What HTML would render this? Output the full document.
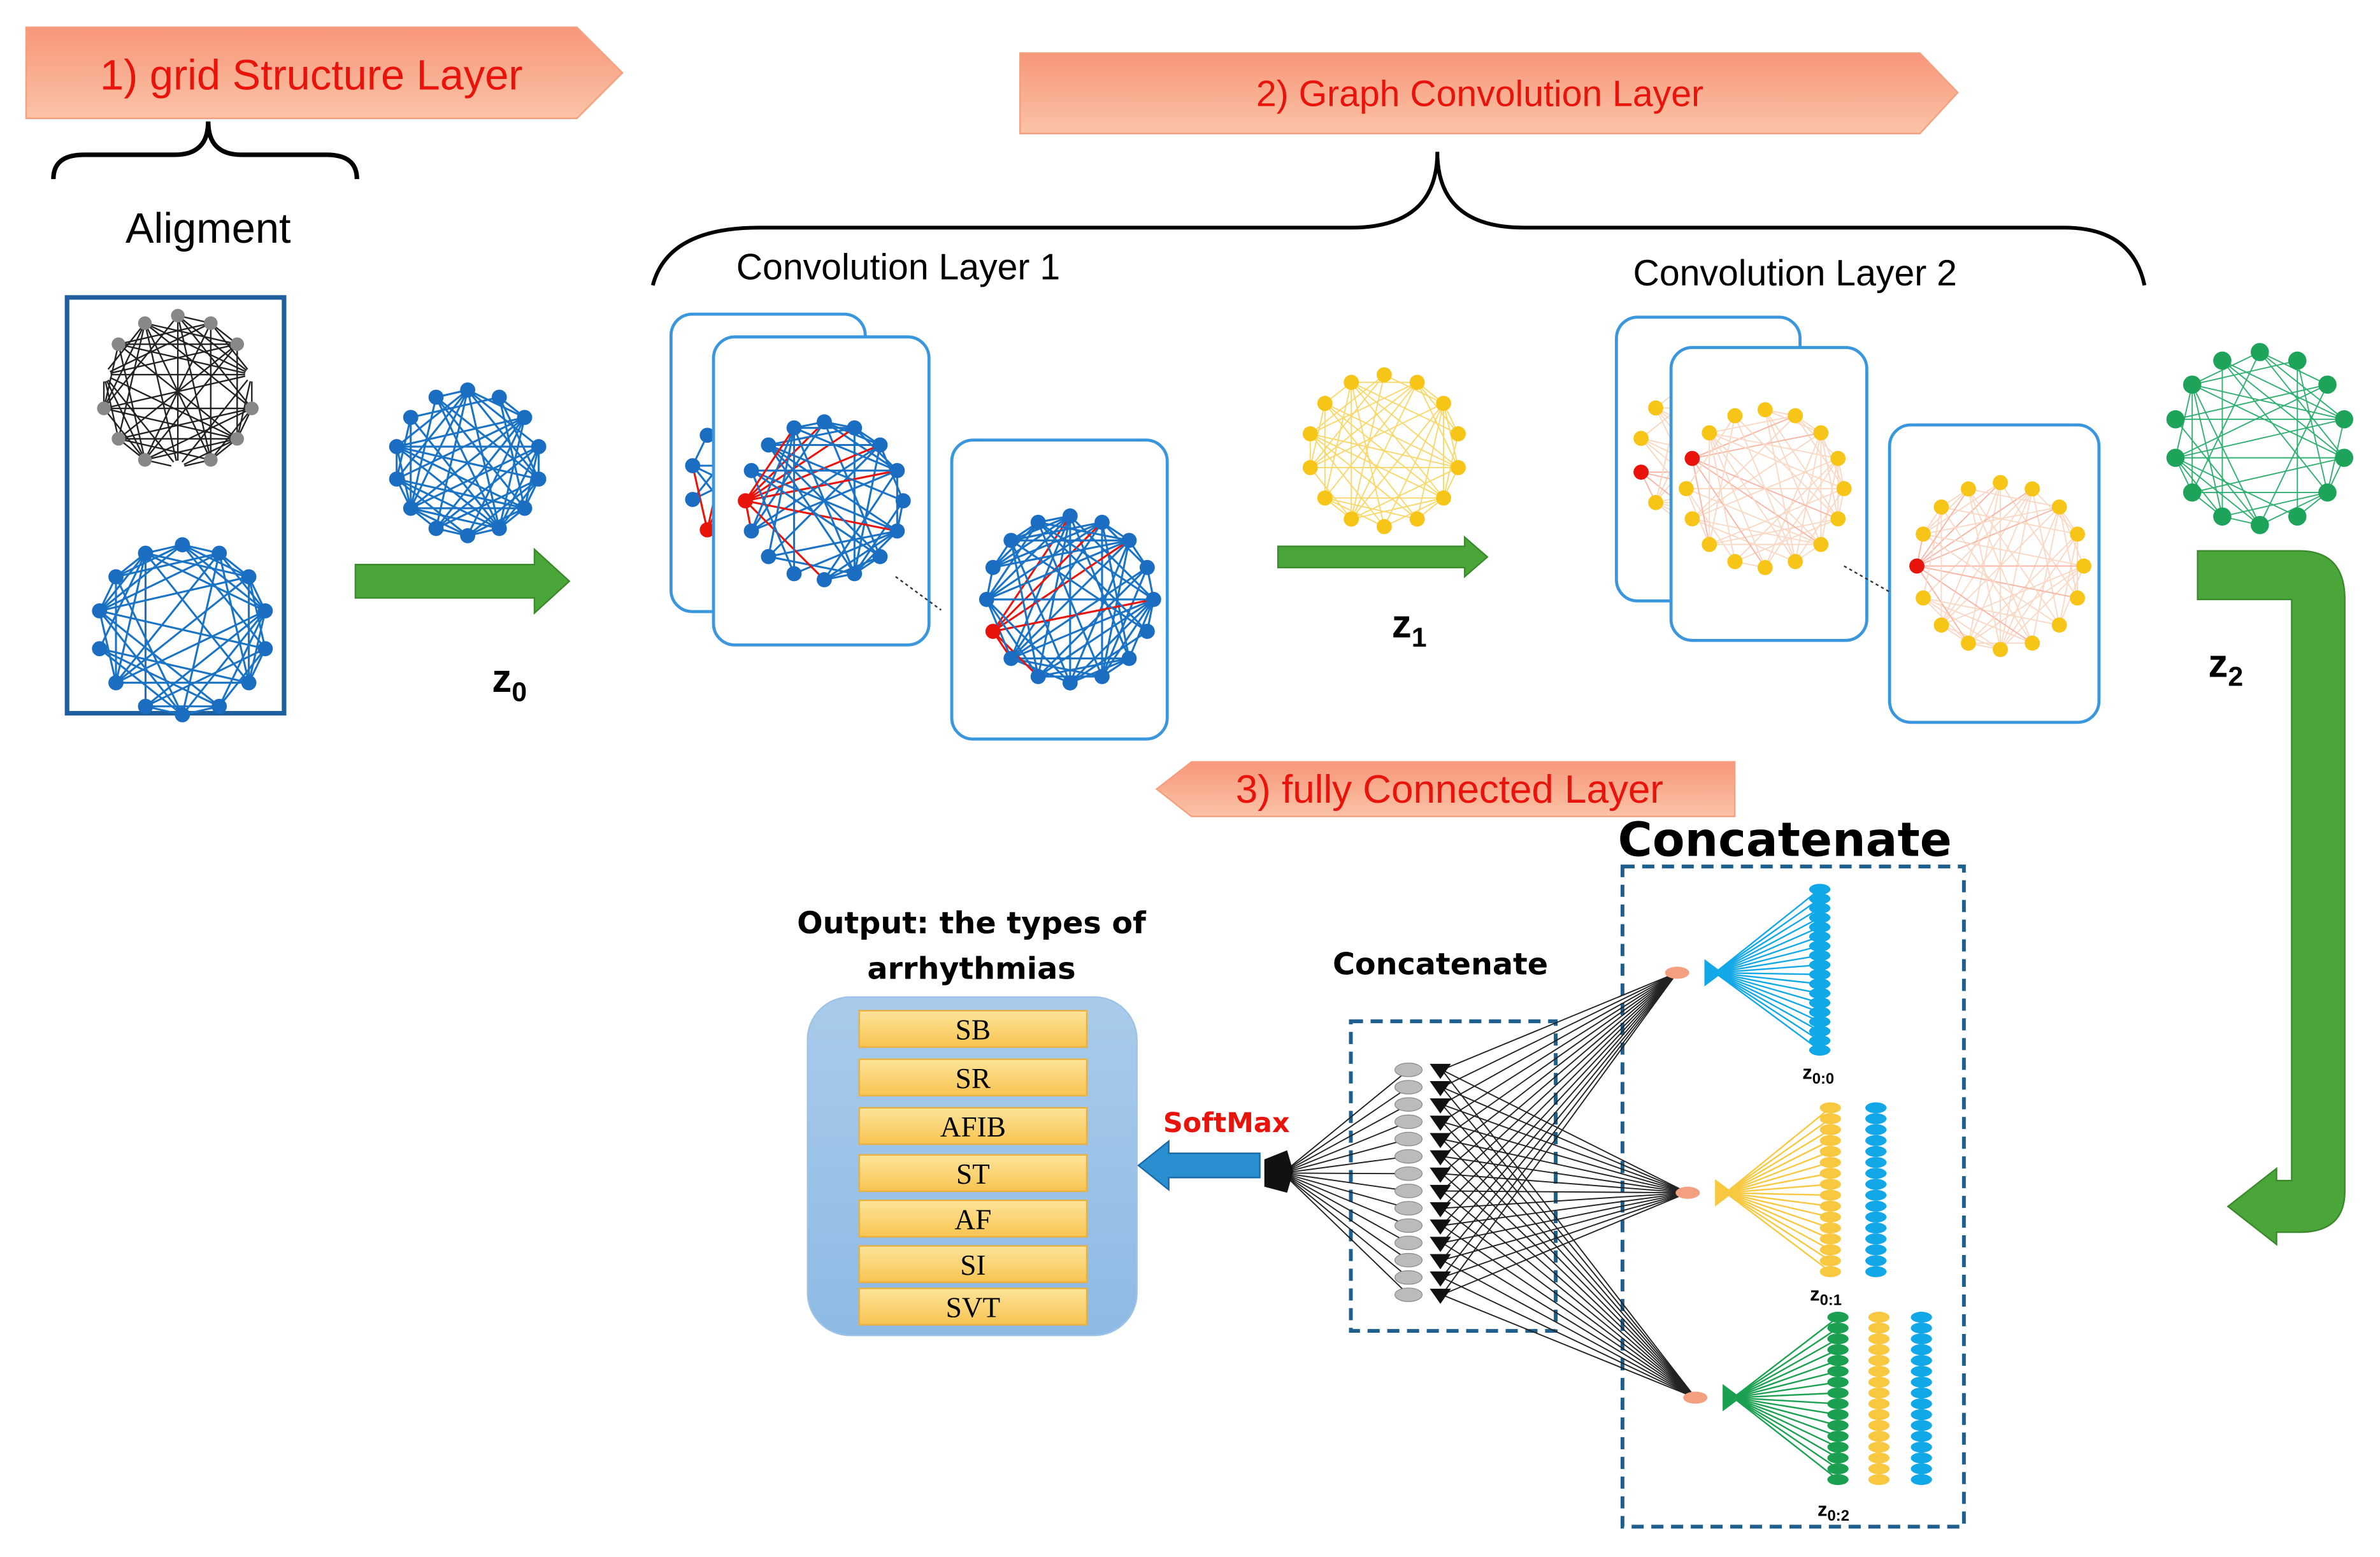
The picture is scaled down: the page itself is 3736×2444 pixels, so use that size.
<!DOCTYPE html>
<html><head><meta charset="utf-8">
<style>
html,body{margin:0;padding:0;background:#fff;}
svg{display:block;}
</style></head>
<body>
<svg id="s" width="3736" height="2444" viewBox="0 0 1568 1026" xmlns="http://www.w3.org/2000/svg" font-family="Liberation Sans, sans-serif">
<defs>
<linearGradient id="sal" x1="0" y1="0" x2="0" y2="1"><stop offset="0" stop-color="#f7967a"/><stop offset="1" stop-color="#fbc3a6"/></linearGradient>
<linearGradient id="outg" x1="0" y1="0" x2="0" y2="1"><stop offset="0" stop-color="#a9cbeb"/><stop offset="1" stop-color="#8dbae4"/></linearGradient>
<linearGradient id="yel" x1="0" y1="0" x2="0" y2="1"><stop offset="0" stop-color="#fde49a"/><stop offset="1" stop-color="#f8c451"/></linearGradient>
</defs>
<polygon points="17,18 380,18 410,48 380,78 17,78" fill="url(#sal)" stroke="#f4a07e"/>
<text x="205" y="59" font-size="28" fill="#e8140c" text-anchor="middle">1) grid Structure Layer</text>
<polygon points="672,35 1265,35 1290,61 1265,88 672,88" fill="url(#sal)" stroke="#f4a07e"/>
<text x="975" y="70" font-size="24" fill="#e8140c" text-anchor="middle">2) Graph Convolution  Layer</text>
<polygon points="785,502 1143,502 1143,538 785,538 762,520" fill="url(#sal)" stroke="#f4a07e"/>
<text x="955" y="529" font-size="26" fill="#e8140c" text-anchor="middle">3) fully Connected Layer</text>
<path d="M35,118 Q35,102 55,102 L115,102 Q137,102 137,80 Q137,102 159,102 L215,102 Q235,102 235,118" fill="none" stroke="#000" stroke-width="3"/>
<text x="137" y="160" font-size="28" text-anchor="middle">Aligment</text>
<path d="M430,188 Q440,150 500,150 L890,150 Q947,150 947,100 Q947,150 1004,150 L1360,150 Q1405,150 1413,188" fill="none" stroke="#000" stroke-width="2.5"/>
<text x="485" y="184" font-size="24">Convolution Layer 1</text>
<text x="1076" y="188" font-size="24">Convolution Layer 2</text>
<rect x="44" y="196" width="143" height="274" fill="none" stroke="#1f5f9e" stroke-width="3"/>
<g fill="#fff" stroke="#3a96dd" stroke-width="2">
<rect x="442" y="207" width="128" height="196" rx="14"/>
<rect x="1065" y="209" width="121" height="187" rx="14"/>
</g>
<g id="g1"></g>
<g fill="#fff" stroke="#3a96dd" stroke-width="2">
<rect x="470" y="222" width="142" height="203" rx="14"/>
<rect x="627" y="290" width="142" height="197" rx="14"/>
<rect x="1101" y="229" width="129" height="193" rx="14"/>
<rect x="1245" y="280" width="138" height="196" rx="14"/>
</g>
<g id="g2"></g>
<line x1="590" y1="380" x2="620" y2="402" stroke="#333" stroke-dasharray="2,2"/>
<line x1="1215" y1="373" x2="1245" y2="390" stroke="#333" stroke-dasharray="2,2"/>
<polygon points="234,372 352,372 352,362 375,383 352,404 352,394 234,394" fill="#4ba63a" stroke="#3a8a2c"/>
<polygon points="842,360 965,360 965,354 980,367 965,380 965,374 842,374" fill="#4ba63a" stroke="#3a8a2c"/>
<path d="M1448,363 L1515,363 Q1545,363 1545,395 L1545,785 Q1545,812 1515,812 L1500,812 L1500,820 L1468,795 L1500,770 L1500,778 L1510,778 L1510,395 L1448,395 Z" fill="#4ba63a" stroke="#3a8a2c"/>
<text x="324" y="456" font-size="26" font-weight="bold">z<tspan font-size="18" dy="6">0</tspan></text>
<text x="917" y="420" font-size="26" font-weight="bold">z<tspan font-size="18" dy="6">1</tspan></text>
<text x="1455" y="446" font-size="26" font-weight="bold">z<tspan font-size="18" dy="6">2</tspan></text>
<text x="1176" y="564" font-size="31" font-weight="bold" text-anchor="middle" style="font-family:'DejaVu Sans',sans-serif">Concatenate</text>
<rect x="1069" y="571" width="225" height="435" fill="none" stroke="#1f5f8e" stroke-width="2.5" stroke-dasharray="8,5"/>
<text x="640" y="615" font-size="20" font-weight="bold" text-anchor="middle" style="font-family:'DejaVu Sans',sans-serif">Output: the types of</text>
<text x="640" y="645" font-size="20" font-weight="bold" text-anchor="middle" style="font-family:'DejaVu Sans',sans-serif">arrhythmias</text>
<rect x="532" y="657" width="217" height="223" rx="28" fill="url(#outg)" stroke="#9cc2e6"/>
<g id="outs"></g>
<polygon points="750,768 770,752 770,760 830,760 830,776 770,776 770,784" fill="#2a8fd0" stroke="#1b6aa8"/>
<text x="808" y="746" font-size="18" font-weight="bold" fill="#e8140c" text-anchor="middle" style="font-family:'DejaVu Sans',sans-serif">SoftMax</text>
<text x="949" y="642" font-size="20" font-weight="bold" text-anchor="middle" style="font-family:'DejaVu Sans',sans-serif">Concatenate</text>
<rect x="890" y="673" width="135" height="204" fill="none" stroke="#1f5f8e" stroke-width="2.5" stroke-dasharray="8,5"/>
<g id="fc"></g>
<text x="1198" y="711" font-size="13" font-weight="bold" text-anchor="middle">z<tspan font-size="10" dy="3">0:0</tspan></text>
<text x="1203" y="857" font-size="13" font-weight="bold" text-anchor="middle">z<tspan font-size="10" dy="3">0:1</tspan></text>
<text x="1208" y="999" font-size="13" font-weight="bold" text-anchor="middle">z<tspan font-size="10" dy="3">0:2</tspan></text>
</svg>
<script>
var NS="http://www.w3.org/2000/svg";
function el(p,t,a){var e=document.createElementNS(NS,t);for(var k in a)e.setAttribute(k,a[k]);p.appendChild(e);return e;}
var seed=7;function rnd(){seed=(seed*16807)%2147483647;return seed/2147483647;}
function graph(p,cx,cy,r,n,ec,nc,dens,nr,hi,hic,ew){
 var pts=[];for(var i=0;i<n;i++){var a=-Math.PI/2+i*2*Math.PI/n;pts.push([cx+r*Math.cos(a),cy+r*Math.sin(a)]);}
 for(var i=0;i<n;i++)for(var j=i+1;j<n;j++){if(rnd()<dens){var c=ec;if(hi!=null&&(i==hi||j==hi))c=hic;el(p,'line',{x1:pts[i][0],y1:pts[i][1],x2:pts[j][0],y2:pts[j][1],stroke:c,'stroke-width':ew||1});}}
 for(var i=0;i<n;i++){var c=nc;if(typeof nc=='function')c=nc(i);if(hi!=null&&i==hi)c='#e8140c';el(p,'circle',{cx:pts[i][0],cy:pts[i][1],r:nr,fill:c});}
}
var g1=document.getElementById('g1'),g2=document.getElementById('g2');
graph(g1,117,258,50,14,'#222',function(i){return i%4==3?'#fff':'#888';},0.6,4.5);
graph(g1,120,415,56,14,'#1a73c4','#1a6dc0',0.6,5,null,null,1.3);
graph(g1,308,305,48,14,'#1a73c4','#1a6dc0',0.6,5,null,null,1.3);
graph(g1,505,318,50,14,'#1a73c4','#1a6dc0',0.5,5,9,'#e8140c',1.3);
graph(g1,912,297,50,14,'#f8d86a','#f7c518',0.5,5,null,null,0.8);
graph(g1,1130,300,50,14,'#f8d8c0','#f7c518',0.5,5,10,'#f9b5a5',0.8);
graph(g1,1489,289,57,14,'#2fb070','#1ea35a',0.5,6,null,null,0.8);
graph(g2,543,330,52,16,'#1a73c4','#1a6dc0',0.45,5,12,'#e8140c',1.3);
graph(g2,705,395,55,16,'#1a73c4','#1a6dc0',0.45,5,11,'#e8140c',1.3);
graph(g2,1163,322,52,16,'#f9d9c5','#f7c518',0.5,5,13,'#f9b5a5',0.8);
graph(g2,1318,373,55,16,'#f9d9c5','#f7c518',0.5,5,12,'#f9b5a5',0.8);
var outs=document.getElementById('outs'),lab=['SB','SR','AFIB','ST','AF','SI','SVT'],ys=[666,698,730,761,791,821,849];
for(var i=0;i<7;i++){el(outs,'rect',{x:566,y:ys[i],width:150,height:24,fill:'url(#yel)',stroke:'#e8b040'});var t=el(outs,'text',{x:641,y:ys[i]+19,'font-size':19,'text-anchor':'middle',style:"font-family:'Liberation Serif',serif"});t.textContent=lab[i];}
var fc=document.getElementById('fc');
var nodes=[];for(var i=0;i<14;i++)nodes.push(705+i*11.4);
var hubs=[[1105,641],[1112,786],[1117,921]];
nodes.forEach(function(y){el(fc,'line',{x1:845,y1:773,x2:928,y2:y,stroke:'#222','stroke-width':0.8});hubs.forEach(function(h){el(fc,'line',{x1:950,y1:y,x2:h[0],y2:h[1],stroke:'#222','stroke-width':0.8});});});
nodes.forEach(function(y){el(fc,'ellipse',{cx:928,cy:y,rx:9,ry:4.5,fill:'#bbb',stroke:'#888','stroke-width':0.5});el(fc,'polygon',{points:(942)+','+(y-4)+' 956,'+(y-4)+' 949,'+(y+6),fill:'#111'});});
el(fc,'polygon',{points:'833,764 848,758 852,772 848,786 833,782',fill:'#111'});
function fan(hx,hy,cols,y0,y1,n,fanCol){
 for(var i=0;i<n;i++){var y=y0+(y1-y0)*i/(n-1);el(fc,'line',{x1:hx+25,y1:hy,x2:cols[0][0],y2:y,stroke:fanCol,'stroke-width':1});}
 cols.forEach(function(c){for(var i=0;i<n;i++){var y=y0+(y1-y0)*i/(n-1);el(fc,'ellipse',{cx:c[0],cy:y,rx:7,ry:3.6,fill:c[1]});}});
 el(fc,'polygon',{points:(hx+18)+','+(hy-9)+' '+(hx+30)+','+hy+' '+(hx+18)+','+(hy+9),fill:fanCol});
 el(fc,'ellipse',{cx:hx,cy:hy,rx:8,ry:4,fill:'#f2a080'});
}
fan(1105,641,[[1199,'#12a8e8']],586,692,18,'#12a8e8');
fan(1112,786,[[1206,'#f8c840'],[1236,'#12a8e8']],730,838,16,'#f8c840');
fan(1117,921,[[1211,'#1aa050'],[1238,'#f8c840'],[1266,'#12a8e8']],868,975,16,'#1aa050');
</script>
</body></html>
